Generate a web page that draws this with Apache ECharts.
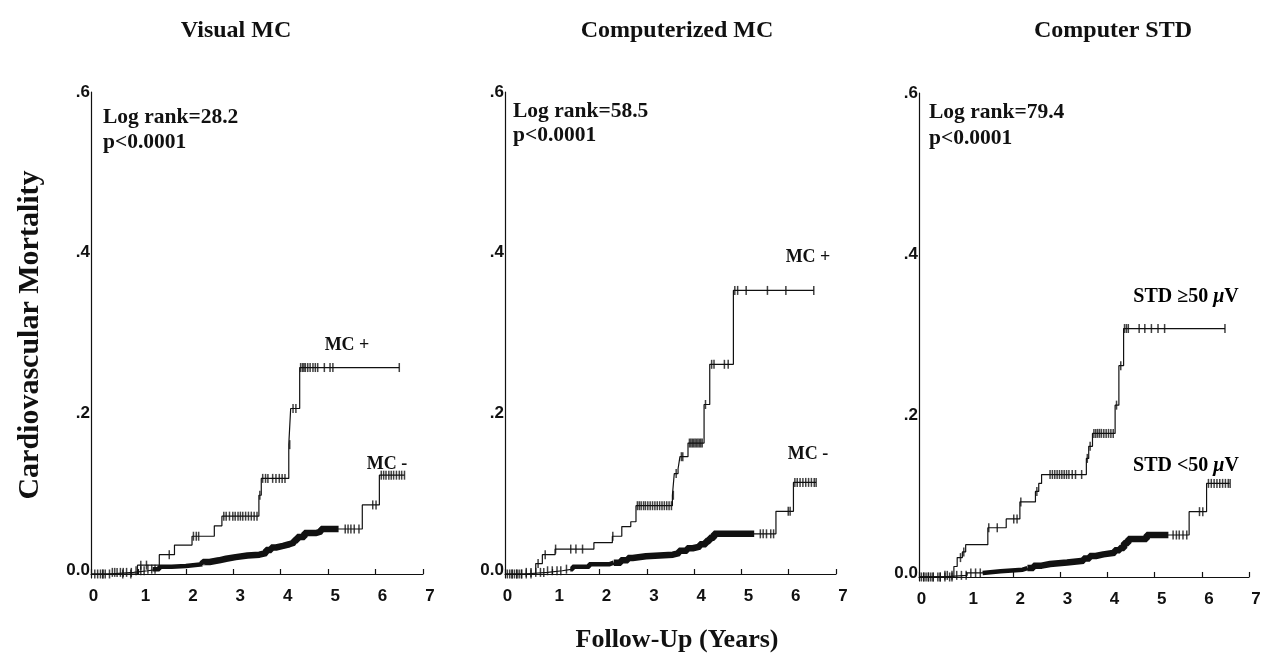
<!DOCTYPE html>
<html><head><meta charset="utf-8">
<script src="https://cdn.jsdelivr.net/npm/echarts@6/dist/echarts.min.js"></script>
<style>html,body{margin:0;padding:0;background:#fff}#c{width:1273px;height:664px}</style>
</head><body><div id="c"></div>
<script>
// ---------- data ----------
const panelTitles = ['Visual MC', 'Computerized MC', 'Computer STD'];
const logRankTexts = ['Log rank=28.2', 'Log rank=58.5', 'Log rank=79.4'];
const pTexts = ['p<0.0001', 'p<0.0001', 'p<0.0001'];
const upperLabels = ['MC +', 'MC +', 'STD \u226550 '];
const lowerLabels = ['MC -', 'MC -', 'STD <50 '];
const xTickLabels = ['0', '1', '2', '3', '4', '5', '6', '7'];
const yTickValues = [0, 0.2, 0.4, 0.6];
const yTickLabels = ['0.0', '.2', '.4', '.6'];

// Panel 1: Visual MC  (step points: [years, cumulative mortality after the step])
const p1Upper = [[0,0],[0.98,0.011],[1.44,0.024],[1.76,0.036],[2.13,0.047],[2.60,0.060],[2.76,0.072],[3.54,0.098],[3.59,0.119],[4.17,0.161],[4.21,0.206],[4.40,0.257],[6.50,0.257]];
const p1UpperCensor = [0.25,0.39,0.67,0.84,1.05,1.17,1.65,2.16,2.22,2.27,2.80,2.85,2.92,2.99,3.04,3.10,3.15,3.20,3.26,3.32,3.38,3.44,3.50,3.56,3.62,3.68,3.73,3.83,3.90,3.97,4.03,4.09,4.19,4.26,4.32,4.42,4.46,4.49,4.52,4.57,4.62,4.68,4.73,4.78,4.92,5.04,5.10,6.50];
const p1Lower = [[0,0],[0.35,0.002],[0.90,0.004],[1.20,0.006],[1.44,0.009],[1.70,0.010],[2.00,0.012],[2.36,0.015],[2.50,0.017],[2.70,0.019],[2.85,0.021],[3.05,0.023],[3.30,0.024],[3.55,0.026],[3.69,0.030],[3.80,0.033],[3.90,0.035],[4.05,0.037],[4.18,0.039],[4.28,0.042],[4.35,0.046],[4.50,0.051],[4.75,0.053],[4.85,0.056],[5.72,0.086],[6.08,0.123],[6.61,0.123]];
const p1LowerCensor = [0.08,0.14,0.20,0.25,0.30,0.45,0.50,0.55,0.62,0.68,0.75,0.85,0.95,1.05,1.12,1.20,1.28,1.35,5.36,5.42,5.48,5.55,5.65,5.94,6.01,6.12,6.17,6.22,6.28,6.33,6.38,6.44,6.50,6.55,6.61];
const p1DenseMedium = [1.30, 2.35];
const p1DenseHeavy = [2.35, 5.22];

// Panel 2: Computerized MC
const p2Upper = [[0,0],[0.65,0.013],[0.79,0.024],[1.06,0.031],[1.88,0.039],[2.27,0.047],[2.47,0.059],[2.66,0.065],[2.77,0.085],[3.54,0.098],[3.58,0.125],[3.66,0.131],[3.70,0.146],[3.87,0.163],[4.21,0.211],[4.33,0.261],[4.83,0.353],[6.53,0.353]];
const p2UpperCensor = [0.15,0.25,0.35,0.45,0.55,0.70,0.85,1.07,1.39,1.50,1.64,2.28,2.80,2.84,2.88,2.93,2.97,3.02,3.07,3.12,3.17,3.22,3.27,3.32,3.37,3.42,3.47,3.52,3.56,3.62,3.73,3.76,3.90,3.93,3.96,3.99,4.02,4.05,4.08,4.11,4.14,4.17,4.24,4.37,4.42,4.64,4.72,4.86,4.92,5.10,5.55,5.94,6.53];
const p2Lower = [[0,0],[0.40,0.002],[0.90,0.004],[1.21,0.006],[1.43,0.009],[1.78,0.012],[2.20,0.014],[2.45,0.017],[2.60,0.020],[2.70,0.022],[2.98,0.024],[3.55,0.026],[3.68,0.029],[3.85,0.032],[3.97,0.034],[4.12,0.037],[4.25,0.041],[4.33,0.045],[4.42,0.050],[5.73,0.078],[6.10,0.114],[6.58,0.114]];
const p2LowerCensor = [0.05,0.10,0.15,0.20,0.25,0.30,0.35,0.45,0.55,0.65,0.75,0.82,0.90,1.00,1.10,1.18,1.30,5.40,5.46,5.53,5.62,5.68,5.99,6.03,6.13,6.18,6.24,6.30,6.36,6.42,6.48,6.54,6.58];
const p2DenseMedium = [1.38, 2.30];
const p2DenseHeavy = [2.30, 5.27];

// Panel 3: Computer STD
const p3Upper = [[0,0],[0.74,0.013],[0.81,0.024],[0.92,0.031],[0.99,0.040],[1.46,0.061],[1.85,0.072],[2.14,0.093],[2.47,0.106],[2.54,0.116],[2.60,0.127],[3.55,0.147],[3.60,0.162],[3.68,0.178],[4.16,0.213],[4.24,0.262],[4.34,0.308],[6.49,0.308]];
const p3UpperCensor = [0.10,0.20,0.30,0.45,0.55,0.65,0.70,0.88,0.95,1.48,1.66,2.01,2.08,2.16,2.50,2.78,2.83,2.88,2.93,2.98,3.03,3.08,3.13,3.18,3.25,3.32,3.45,3.57,3.63,3.71,3.75,3.79,3.83,3.87,3.92,3.97,4.02,4.07,4.12,4.19,4.28,4.36,4.40,4.44,4.67,4.79,4.93,5.07,5.21,6.49];
const p3Lower = [[0,0],[0.50,0.002],[1.02,0.005],[1.37,0.007],[1.73,0.009],[2.20,0.011],[2.43,0.014],[2.60,0.016],[2.78,0.018],[3.14,0.020],[3.49,0.023],[3.62,0.026],[3.75,0.028],[3.91,0.030],[4.15,0.033],[4.26,0.036],[4.35,0.042],[4.44,0.047],[4.83,0.052],[5.73,0.081],[6.10,0.116],[6.59,0.116]];
const p3LowerCensor = [0.05,0.10,0.15,0.20,0.25,0.30,0.40,0.45,0.55,0.60,0.70,0.80,0.90,1.00,1.10,1.20,1.30,5.39,5.46,5.52,5.60,5.68,5.95,6.02,6.14,6.20,6.26,6.32,6.38,6.44,6.50,6.56,6.60];
const p3DenseMedium = [1.35, 2.30];
const p3DenseHeavy = [2.30, 5.29];

// ---------- build ----------
const panels = [
  {upper:p1Upper, upperC:p1UpperCensor, lower:p1Lower, lowerC:p1LowerCensor, med:p1DenseMedium, heavy:p1DenseHeavy},
  {upper:p2Upper, upperC:p2UpperCensor, lower:p2Lower, lowerC:p2LowerCensor, med:p2DenseMedium, heavy:p2DenseHeavy},
  {upper:p3Upper, upperC:p3UpperCensor, lower:p3Lower, lowerC:p3LowerCensor, med:p3DenseMedium, heavy:p3DenseHeavy}
];
const grids = [
  {left:91, top:92, width:332, height:486},
  {left:505, top:92, width:331, height:486},
  {left:919, top:93, width:330, height:488}
];
function valueAt(steps, t) {
  let v = steps[0][1];
  for (const s of steps) { if (s[0] <= t + 1e-9) v = s[1]; }
  return v;
}
function segment(steps, range) {
  const out = [[range[0], valueAt(steps, range[0])]];
  for (const s of steps) if (s[0] > range[0] && s[0] < range[1]) out.push(s);
  out.push([range[1], valueAt(steps, range[1])]);
  return out;
}
const INK = '#111';
const SERIF = '"Liberation Serif", "DejaVu Serif", serif';
const SANS = '"Liberation Sans", Arial, sans-serif';

const xAxes = [], yAxes = [], series = [];
panels.forEach((p, i) => {
  xAxes.push({
    gridIndex: i, type: 'value', min: 0, max: 7, interval: 1,
    axisLine: {show: true, lineStyle: {color: INK, width: 1.2}},
    axisTick: {show: true, inside: true, length: 5, lineStyle: {color: INK, width: 1.2}},
    splitLine: {show: false},
    axisLabel: {
      margin: 10, color: INK,
      formatter: v => (v === 0 ? '{z|' : '{d|') + xTickLabels[v] + '}',
      rich: {
        z: {fontFamily: SANS, fontWeight: 'bold', fontSize: 17, color: INK, padding: [0,0,0,5]},
        d: {fontFamily: SANS, fontWeight: 'bold', fontSize: 17, color: INK, padding: [0,0,0,14]}
      }
    }
  });
  yAxes.push({
    gridIndex: i, type: 'value', min: -0.005, max: 0.6,
    axisLine: {show: true, onZero: false, lineStyle: {color: INK, width: 1.2}},
    axisTick: {show: false},
    splitLine: {show: false},
    axisLabel: {
      customValues: yTickValues, margin: 1, color: INK,
      formatter: v => {
        const k = yTickValues.findIndex(t => Math.abs(t - v) < 1e-6);
        return k === 0 ? '{z|' + yTickLabels[k] + '}' : '{d|' + yTickLabels[k] + '}';
      },
      rich: {
        z: {fontFamily: SANS, fontWeight: 'bold', fontSize: 17, color: INK, padding: [0,0,8,0]},
        d: {fontFamily: SANS, fontWeight: 'bold', fontSize: 17, color: INK}
      }
    }
  });
  const base = {xAxisIndex: i, yAxisIndex: i, silent: true, animation: false};
  const lineOf = (data, w) => Object.assign({}, base, {
    type: 'line', step: 'end', data: data, showSymbol: false, symbol: 'none',
    lineStyle: {color: INK, width: w}, z: 3
  });
  series.push(lineOf(p.upper, 1.2));
  series.push(lineOf(p.lower, 1.2));
  series.push(lineOf(segment(p.lower, p.med), 4.5));
  series.push(lineOf(segment(p.lower, p.heavy), 6.5));
  const censorOf = (steps, times) => Object.assign({}, base, {
    type: 'scatter', symbol: 'rect', symbolSize: [1.5, 9],
    itemStyle: {color: INK}, z: 4,
    data: times.map(t => [t, valueAt(steps, t)])
  });
  series.push(censorOf(p.upper, p.upperC));
  series.push(censorOf(p.lower, p.lowerC));
});

function txt(x, y, text, font, align, extra) {
  return Object.assign({
    type: 'text', x: x, y: y, silent: true,
    style: {text: text, font: font, fill: INK, align: align || 'left', verticalAlign: 'middle',
            textAlign: align || 'left', textVerticalAlign: 'middle'}
  }, extra || {});
}
function richTxt(x, y, main) {
  return {
    type: 'text', x: x, y: y, silent: true,
    style: {
      text: '{n|' + main + '}{m|\u03bc}{n|V}', align: 'center', verticalAlign: 'middle',
      textAlign: 'center', textVerticalAlign: 'middle',
      rich: {
        n: {fontFamily: SERIF, fontWeight: 'bold', fontSize: 20, color: INK},
        m: {fontFamily: SERIF, fontWeight: 'bold', fontStyle: 'italic', fontSize: 20, color: INK}
      }
    }
  };
}
const TITLE = 'bold 24px ' + SERIF;
const ANN = 'bold 21.5px ' + SERIF;
const LAB = 'bold 18px ' + SERIF;
const titleX = [236, 677, 1113];
const annX = [103, 513, 929];
const logY = [117, 111, 112];
const pY = [142, 135, 138];
const graphic = [];
panelTitles.forEach((t, i) => graphic.push(txt(titleX[i], 31, t, TITLE, 'center')));
logRankTexts.forEach((t, i) => graphic.push(txt(annX[i], logY[i], t, ANN, 'left')));
pTexts.forEach((t, i) => graphic.push(txt(annX[i], pY[i], t, ANN, 'left')));
graphic.push(txt(347, 345, upperLabels[0], LAB, 'center'));
graphic.push(txt(387, 464, lowerLabels[0], LAB, 'center'));
graphic.push(txt(808, 257, upperLabels[1], LAB, 'center'));
graphic.push(txt(808, 454, lowerLabels[1], LAB, 'center'));
graphic.push(richTxt(1186, 297, upperLabels[2]));
graphic.push(richTxt(1186, 466, lowerLabels[2]));
graphic.push(txt(30, 335, 'Cardiovascular Mortality', 'bold 30px ' + SERIF, 'center', {rotation: Math.PI / 2}));
graphic.push(txt(677, 640, 'Follow-Up (Years)', 'bold 26px ' + SERIF, 'center'));

const chart = echarts.init(document.getElementById('c'), null, {renderer: 'canvas'});
chart.setOption({
  backgroundColor: '#fff',
  animation: false,
  grid: grids,
  xAxis: xAxes,
  yAxis: yAxes,
  series: series,
  graphic: graphic
});
</script></body></html>
